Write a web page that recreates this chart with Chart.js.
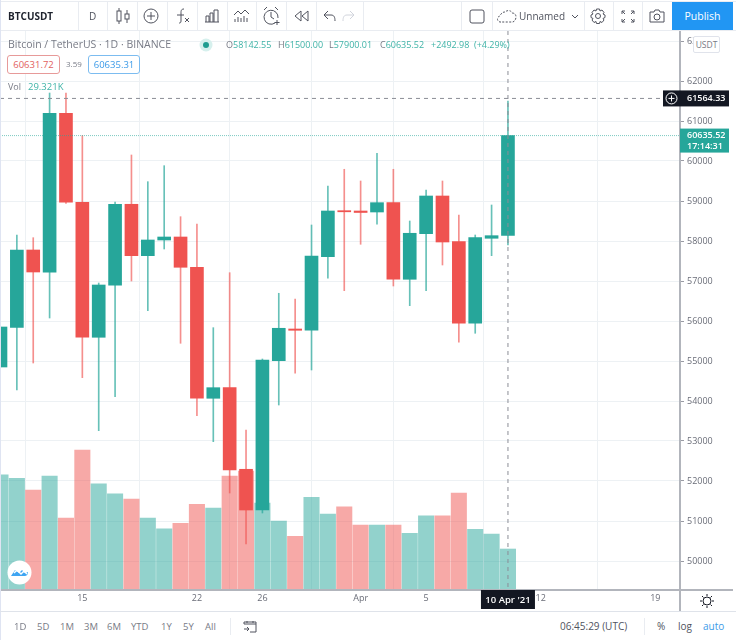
<!DOCTYPE html>
<html>
<head>
<meta charset="utf-8">
<title>BTCUSDT</title>
<script src="https://cdn.jsdelivr.net/npm/chart.js@4/dist/chart.umd.min.js"></script>
<style>
html, body { margin: 0; padding: 0; background: #fff; }
body { width: 736px; height: 640px; position: relative; overflow: hidden; font-family: "Open Sans", sans-serif; color: #787b86; }
#chartWrap { position: absolute; left: 0; top: 0; width: 736px; height: 612px; }
.t { position: absolute; white-space: nowrap; line-height: 1; }
.line { position: absolute; background: #e9ecf1; }
.ic { position: absolute; fill: none; stroke: #50535e; stroke-width: 1; }
.up { color: #3fb3a7; }
.badge { position: absolute; top: 55px; height: 17px; line-height: 17px; text-align: center; font-size: 9.5px; border-radius: 3px; background: #fff; box-sizing: content-box; }
</style>
</head>
<body>
<div id="chartWrap"><canvas id="priceChart"></canvas></div>

<!-- top toolbar -->
<div class="line" style="left:0;top:30px;width:736px;height:1px"></div>
<div class="line" style="left:0;top:1px;width:736px;height:1px"></div>
<div class="line" style="left:78px;top:2px;width:1px;height:28px"></div>
<div class="line" style="left:107px;top:2px;width:1px;height:28px"></div>
<div class="line" style="left:137px;top:2px;width:1px;height:28px"></div>
<div class="line" style="left:167px;top:2px;width:1px;height:28px"></div>
<div class="line" style="left:197px;top:2px;width:1px;height:28px"></div>
<div class="line" style="left:227px;top:2px;width:1px;height:28px"></div>
<div class="line" style="left:256px;top:2px;width:1px;height:28px"></div>
<div class="line" style="left:286px;top:2px;width:1px;height:28px"></div>
<div class="line" style="left:316px;top:2px;width:1px;height:28px"></div>
<div class="line" style="left:363px;top:2px;width:1px;height:28px"></div>
<div class="line" style="left:461px;top:2px;width:1px;height:28px"></div>
<div class="line" style="left:492px;top:2px;width:1px;height:28px"></div>
<div class="line" style="left:584px;top:2px;width:1px;height:28px"></div>
<div class="line" style="left:613px;top:2px;width:1px;height:28px"></div>
<div class="line" style="left:642px;top:2px;width:1px;height:28px"></div>
<div class="line" style="left:0;top:0;width:1px;height:640px;background:#dfe4f2"></div>

<span class="t" style="left:8px;top:11px;font-size:10px;font-weight:700;color:#1e222d">BTCUSDT</span>
<span class="t" style="left:89px;top:11px;font-size:10px;color:#50535e">D</span>

<svg class="ic" style="left:115px;top:7px" width="16" height="18" viewBox="0 0 16 18"><path d="M4 1v3M4 14v3M12 3v4M12 12v4"/><rect x="2" y="4" width="4" height="10"/><rect x="10" y="7" width="4" height="5"/></svg>
<svg class="ic" style="left:143px;top:8px" width="16" height="16" viewBox="0 0 16 16"><circle cx="8" cy="8" r="7"/><path d="M8 4v8M4 8h8"/></svg>
<svg class="ic" style="left:175px;top:7px" width="16" height="18" viewBox="0 0 16 18"><path d="M9 2c-3 0-3 2-3 4v8c0 2-1 2-2 2M2 8h7M10 11l4 4M14 11l-4 4"/></svg>
<svg class="ic" style="left:204px;top:8px" width="16" height="16" viewBox="0 0 16 16"><path d="M1 14h14M2 14V8h3v6M6 14V5h3v9M10 14V2h4v12"/></svg>
<svg class="ic" style="left:233px;top:8px" width="17" height="16" viewBox="0 0 17 16"><path d="M1 7l4-4 3 3 4-4 4 4M2 14v-3M5 14V9M8 14v-4M11 14V8M14 14v-4"/></svg>
<svg class="ic" style="left:262px;top:6px" width="18" height="20" viewBox="0 0 18 20"><path d="M2 4l3-3M13 1l3 3M13 17a7 7 0 1 1 3-5M9 6v5l3 2M15 14v5M12.500 16.500h5"/></svg>
<svg class="ic" style="left:293px;top:10px" width="17" height="12" viewBox="0 0 17 12"><path d="M8 1L2 6l6 5zM15 1L9 6l6 5z"/></svg>
<svg class="ic" style="left:323px;top:10px" width="13" height="12" viewBox="0 0 13 12"><path d="M5 1L1 5l4 4M1 5h7c3 0 4 2 4 6"/></svg>
<svg class="ic" style="left:342px;top:10px;stroke:#d1d4dc" width="13" height="12" viewBox="0 0 13 12"><path d="M8 1l4 4-4 4M12 5H5c-3 0-4 2-4 6"/></svg>

<svg class="ic" style="left:469px;top:9px" width="16" height="15" viewBox="0 0 16 15"><rect x="1" y="1" width="14" height="13" rx="2"/></svg>
<svg class="ic" style="left:497px;top:9px;stroke-dasharray:2 1.500" width="20" height="14" viewBox="0 0 20 14"><path d="M4 13a3 3 0 0 1-1-6c1-3 3-4 5-4 2-2 6-2 7 1 3 0 4 2 4 4s-1 4-3 5z"/></svg>
<span class="t" style="left:519px;top:11px;font-size:10px;color:#50535e">Unnamed</span>
<svg class="ic" style="left:571px;top:14px" width="8" height="5" viewBox="0 0 8 5"><path d="M1 1l3 3 3-3"/></svg>
<svg class="ic" style="left:590px;top:8px" width="16" height="16" viewBox="0 0 16 16"><circle cx="8" cy="8" r="2.500"/><path d="M6.500 1h3l.5 2 2-1 2 2.500-1 1.500 2 1v2.500l-2 1 1 1.500-2 2.500-2-1-.5 2h-3l-.5-2-2 1-2-2.500 1-1.500-2-1V7l2-1-1-1.500L4 2l2 1z"/></svg>
<svg class="ic" style="left:621px;top:10px" width="14" height="13" viewBox="0 0 14 13"><path d="M1 4V1h3M1 1l3 3M13 4V1h-3M13 1l-3 3M1 9v3h3M1 12l3-3M13 9v3h-3M13 12l-3-3"/></svg>
<svg class="ic" style="left:649px;top:9px" width="16" height="14" viewBox="0 0 16 14"><path d="M1 3h4l1-2h4l1 2h4v10H1z"/><circle cx="8" cy="8" r="3"/></svg>
<div class="t" style="left:672px;top:2px;width:61px;height:28px;line-height:28px;text-align:center;background:#2196f3;color:#fff;font-size:10.500px">Publish</div>

<!-- legend -->
<span class="t" style="left:8px;top:39px;font-size:10.500px">Bitcoin / TetherUS · 1D · BINANCE</span>
<svg style="position:absolute;left:198px;top:37px" width="16" height="16"><circle cx="8" cy="8" r="6.500" fill="#d6f0ed"/><circle cx="8" cy="8" r="3" fill="#1f9d90"/></svg>
<span class="t" style="left:226px;top:40px;font-size:9px">O<span class="up">58142.55</span></span>
<span class="t" style="left:278px;top:40px;font-size:9px">H<span class="up">61500.00</span></span>
<span class="t" style="left:329px;top:40px;font-size:9px">L<span class="up">57900.01</span></span>
<span class="t" style="left:380px;top:40px;font-size:9px">C<span class="up">60635.52</span></span>
<span class="t up" style="left:431px;top:40px;font-size:9px">+2492.98</span>
<span class="t up" style="left:474px;top:40px;font-size:9px">(+4.29%)</span>
<div class="badge" style="left:7px;width:51px;border:1px solid #e79a99;color:#e2605e">60631.72</div>
<span class="t" style="left:66px;top:60px;font-size:8px">3.59</span>
<div class="badge" style="left:88px;width:50px;border:1px solid #7cbcf0;color:#3d9be8">60635.31</div>
<span class="t" style="left:8px;top:82px;font-size:9px">Vol</span>
<span class="t up" style="left:28px;top:82px;font-size:9.500px">29.321K</span>

<div class="t" style="left:693px;top:36px;width:25px;height:15px;line-height:15px;text-align:center;border:1px solid #e0e3eb;border-radius:2px;background:#fff;font-size:8.500px">USDT</div>

<!-- logo -->
<svg style="position:absolute;left:7px;top:560px" width="25" height="25"><circle cx="12.500" cy="12.500" r="12" fill="#fff"/><path d="M4 16l4-6 4 3 3-3 3 3 3-1c0 3-2 4-3 4H6z" fill="#3fa5f2"/><path d="M7 13l3-3 4 4 3-3 3 3" fill="none" stroke="#fff" stroke-width="1.500"/></svg>

<!-- bottom bar -->
<div class="line" style="left:0;top:611px;width:736px;height:1px;background:#dfe3ea"></div>
<span class="t" style="left:14px;top:622px;font-size:9.500px">1D</span>
<span class="t" style="left:37px;top:622px;font-size:9.500px">5D</span>
<span class="t" style="left:60px;top:622px;font-size:9.500px">1M</span>
<span class="t" style="left:84px;top:622px;font-size:9.500px">3M</span>
<span class="t" style="left:107px;top:622px;font-size:9.500px">6M</span>
<span class="t" style="left:131px;top:622px;font-size:9.500px">YTD</span>
<span class="t" style="left:161px;top:622px;font-size:9.500px">1Y</span>
<span class="t" style="left:183px;top:622px;font-size:9.500px">5Y</span>
<span class="t" style="left:205px;top:622px;font-size:9.500px">All</span>
<div class="line" style="left:230px;top:618px;width:1px;height:17px"></div>
<svg class="ic" style="left:243px;top:620px" width="14" height="13" viewBox="0 0 14 13"><path d="M1 4V2h12v10H7M4 1v2M10 1v2M1 4h12M1 9h5M4 7l2 2-2 2"/></svg>
<span class="t" style="left:560px;top:621px;font-size:10px;color:#50535e">06:45:29 (UTC)</span>
<div class="line" style="left:644px;top:618px;width:1px;height:17px"></div>
<span class="t" style="left:657px;top:621px;font-size:10px;color:#50535e">%</span>
<span class="t" style="left:678px;top:621px;font-size:10px;color:#50535e">log</span>
<span class="t" style="left:703px;top:621px;font-size:10px;color:#3d9be8">auto</span>
<svg class="ic" style="left:700px;top:594px;stroke:#131722" width="14" height="14" viewBox="0 0 14 14"><circle cx="7" cy="7" r="4"/><path d="M7 0v2M7 12v2M0 7h2M12 7h2M2 2l1.500 1.500M10.500 10.500L12 12M2 12l1.500-1.500M10.500 3.500L12 2"/></svg>

<script>
// Daily candles, 10 Mar to 10 Apr 2021
const opens = [54850, 55842, 57775, 57218, 61192, 58968, 55593, 56893, 58918, 57633, 58025, 58100, 57343, 54068, 54333, 52293, 51275, 55008, 55800, 55768, 57608, 58758, 58750, 58725, 58958, 57043, 58183, 59125, 57983, 55943, 58068, 58142.55];
const closes = [55850, 57775, 57225, 61192, 58968, 55593, 56900, 58918, 57633, 58025, 58100, 57343, 54068, 54333, 52275, 51275, 55025, 55818, 55768, 57625, 58750, 58730, 58713, 58958, 57043, 58193, 59125, 57975, 55943, 58083, 58133, 60635.52];
const highs = [55850, 58150, 58083, 61700, 61700, 60633, 56950, 58975, 60150, 59483, 59883, 58608, 58425, 55833, 57208, 53275, 55050, 56693, 56550, 58400, 59375, 59793, 59500, 60193, 59793, 58500, 59275, 59500, 58650, 58150, 58900, 61500];
const lows = [54850, 54275, 54950, 56075, 58938, 54583, 53258, 54108, 57000, 56258, 57800, 55443, 53633, 52983, 51700, 50425, 51200, 53900, 54693, 54775, 57068, 56758, 57918, 58418, 56875, 56383, 56758, 57400, 55468, 55693, 57633, 57900.01];
const volumes = [82.4, 79.9, 71.5, 81.5, 51.5, 100.1, 76, 68.9, 65, 51.5, 43.8, 47.7, 61.3, 58.6, 81.5, 85.1, 62.2, 49.3, 38.4, 66.3, 54.3, 59.6, 46.5, 46.5, 46.5, 40.5, 53.1, 53.1, 69.4, 43.4, 40, 29.321];

// Axis ticks, as day offsets from 10 Mar
const dayTicks = [5, 12, 16, 22, 26, 33, 40];
const dayLabels = ['15', '22', '26', 'Apr', '5', '12', '19'];
const priceTicks = [50000, 51000, 52000, 53000, 54000, 55000, 56000, 57000, 58000, 59000, 60000, 61000, 62000, 63000];

const lastPrice = 60635.52;
const crossPrice = 61564.33;
const crossDay = 31;

const upColor = '#26a69a';
const downColor = '#ef5350';
const isUp = opens.map((o, i) => closes[i] >= o);
const barColors = isUp.map(u => u ? upColor : downColor);
const wickColors = isUp.map(u => u ? 'rgba(38,166,154,0.7)' : 'rgba(239,83,80,0.65)');
const volColors = isUp.map(u => u ? 'rgba(38,166,154,0.5)' : 'rgba(239,83,80,0.5)');

Chart.defaults.font.family = '"Open Sans", sans-serif';
Chart.defaults.font.size = 9;
Chart.defaults.color = '#6a6d78';

// Crosshair, last price line, price and date tags
const overlayPlugin = {
    id: 'overlay',
    afterDatasetsDraw(chart) {
        const c = chart.ctx;
        const area = chart.chartArea;
        const yLast = chart.scales.y.getPixelForValue(lastPrice);
        const yCross = chart.scales.y.getPixelForValue(crossPrice);
        const xCross = chart.scales.x.getPixelForValue(crossDay);

        c.save();
        c.lineWidth = 1;

        c.strokeStyle = 'rgba(38,166,154,0.6)';
        c.setLineDash([1, 1]);
        c.beginPath();
        c.moveTo(area.left, yLast);
        c.lineTo(area.right, yLast);
        c.stroke();

        c.strokeStyle = '#8b8d96';
        c.setLineDash([4, 4]);
        c.beginPath();
        c.moveTo(area.left, yCross);
        c.lineTo(663, yCross);
        c.moveTo(xCross, area.top);
        c.lineTo(xCross, area.bottom);
        c.stroke();
        c.setLineDash([]);

        // axis lines
        c.strokeStyle = '#b2b5bc';
        c.lineWidth = 2;
        c.beginPath();
        c.moveTo(area.right, area.top);
        c.lineTo(area.right, 611);
        c.moveTo(area.left, area.bottom);
        c.lineTo(733, area.bottom);
        c.stroke();

        c.textBaseline = 'middle';
        c.textAlign = 'left';

        // crosshair price tag
        c.fillStyle = '#131722';
        c.fillRect(663, yCross - 8, 66, 16);
        c.strokeStyle = '#fff';
        c.lineWidth = 1;
        c.beginPath();
        c.arc(671.5, yCross, 5.5, 0, Math.PI * 2);
        c.moveTo(668.5, yCross);
        c.lineTo(674.5, yCross);
        c.moveTo(671.5, yCross - 3);
        c.lineTo(671.5, yCross + 3);
        c.stroke();
        c.fillStyle = '#fff';
        c.font = '600 9px "Open Sans"';
        c.fillText(crossPrice.toFixed(2), 687, yCross);

        // last price tag
        c.fillStyle = upColor;
        c.fillRect(680, yLast - 7, 49, 24);
        c.fillStyle = '#fff';
        c.fillText(lastPrice.toFixed(2), 687, yLast);
        c.fillText('17:14:31', 687, yLast + 11);

        // date tag
        c.fillStyle = '#131722';
        c.fillRect(xCross - 27, area.bottom, 54, 19);
        c.fillStyle = '#fff';
        c.textAlign = 'center';
        c.font = '600 9.5px "Open Sans"';
        c.fillText("10 Apr '21", xCross, area.bottom + 10);
        c.restore();
    }
};

const ctx = document.getElementById('priceChart').getContext('2d');
new Chart(ctx, {
    type: 'bar',
    data: {
        datasets: [
            {
                label: 'Candle body',
                yAxisID: 'y',
                order: 1,
                data: opens.map((o, i) => ({ x: i, y: [o, closes[i]] })),
                backgroundColor: barColors,
                barThickness: 13,
                minBarLength: 1
            },
            {
                label: 'Wick',
                yAxisID: 'y',
                order: 2,
                data: highs.map((h, i) => ({ x: i, y: [lows[i], h] })),
                backgroundColor: wickColors,
                barThickness: 1
            },
            {
                label: 'Volume',
                yAxisID: 'yVol',
                order: 3,
                data: volumes.map((v, i) => ({ x: i, y: v })),
                backgroundColor: volColors,
                barThickness: 15.4
            }
        ]
    },
    options: {
        responsive: true,
        maintainAspectRatio: false,
        animation: false,
        grouped: false,
        layout: { padding: { top: 31, left: 0, right: 0, bottom: 0 } },
        plugins: {
            legend: { display: false },
            tooltip: { enabled: false }
        },
        scales: {
            x: {
                type: 'linear',
                offset: false,
                min: -0.03,
                max: 41.51,
                border: { display: false },
                grid: { color: '#edf1f4', tickLength: 3, tickColor: 'rgba(0,0,0,0)' },
                ticks: {
                    autoSkip: false,
                    maxRotation: 0,
                    padding: 0,
                    callback: value => dayLabels[dayTicks.indexOf(value)]
                },
                afterBuildTicks: scale => {
                    scale.ticks = dayTicks.map(value => ({ value }));
                },
                afterFit: scale => { scale.height = 22; }
            },
            y: {
                position: 'right',
                min: 49275,
                max: 63250,
                border: { display: false },
                grid: { color: '#edf1f4', tickLength: 4, tickColor: '#9a9ca5' },
                ticks: {
                    autoSkip: false,
                    padding: 3,
                    callback: value => String(value)
                },
                afterBuildTicks: scale => {
                    scale.ticks = priceTicks.map(value => ({ value }));
                },
                afterFit: scale => { scale.width = 56; }
            },
            yVol: {
                display: false,
                min: 0,
                max: 400
            }
        }
    },
    plugins: [overlayPlugin]
});
</script>
</body>
</html>
